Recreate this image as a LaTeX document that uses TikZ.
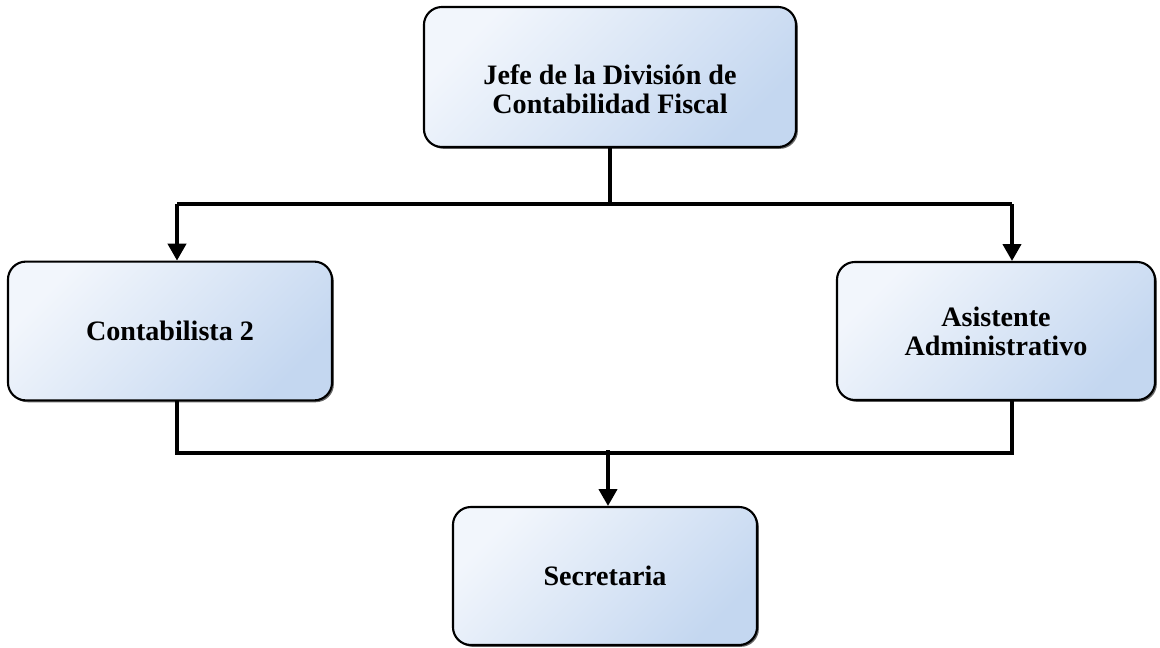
\documentclass[tikz,border=0pt]{standalone}
\usepackage{fontspec}
\setmainfont{Liberation Serif}
\usetikzlibrary{arrows.meta,shadows}
\definecolor{boxlight}{HTML}{F2F6FC}
\definecolor{boxdark}{HTML}{C4D7F0}
\begin{document}
\begin{tikzpicture}[x=0.025cm, y=-0.025cm,
	letra/.style={align=center, inner sep=0pt, font=\fontsize{20}{20.5}\selectfont\bfseries},
	cargo/.style={draw=black, line width=1.5pt, rounded corners=0.45cm,
		top color=boxlight, bottom color=boxdark, shading angle=45,
		drop shadow={shadow xshift=1.3pt, shadow yshift=-1.3pt, fill=black!60, opacity=1},
		letra},
	linea/.style={line width=2.3pt},
	flecha/.style={line width=2.3pt, -{Triangle[width=13pt,length=12pt]}}]
			%%%%% START %%%%%
			\useasboundingbox (0,0) rectangle (1160,647);
			
			\node[cargo, minimum width=9.3cm, minimum height=3.5cm,
				label={[letra, yshift=-0.3cm]center:{Jefe de la División de\\Contabilidad Fiscal}}] (jefe) at (610,77) {};
			\node[cargo, minimum width=8.1cm, minimum height=3.47cm] (conta) at (170,331) {Contabilista 2};
			\node[cargo, minimum width=7.95cm, minimum height=3.45cm] (asist) at (996,331) {Asistente\\Administrativo};
			\node[cargo, minimum width=7.6cm, minimum height=3.45cm] (secre) at (605,576) {Secretaria};
			
			\coordinate (arribaI) at (177,204);
			\coordinate (arribaD) at (1012,204);
			\coordinate (abajoI) at (177,453);
			\coordinate (abajoD) at (1012,453);
			\coordinate (abajoC) at (608,450);
			
			% jefe hacia abajo
			\draw[linea] (jefe.south) -- (jefe.south |- arribaI);
			\draw[linea] (arribaI) -- (arribaD);
			\draw[flecha] (arribaI) -- (arribaI |- conta.north);
			\draw[flecha] (arribaD) -- (arribaD |- asist.north);
			
			% hacia secretaria
			\draw[linea] (abajoI |- conta.south) -- (abajoI) -- (abajoD) -- (abajoD |- asist.south);
			\draw[flecha] (abajoC) -- (abajoC |- secre.north);
			%%%%% END %%%%%
\end{tikzpicture}
\end{document}
